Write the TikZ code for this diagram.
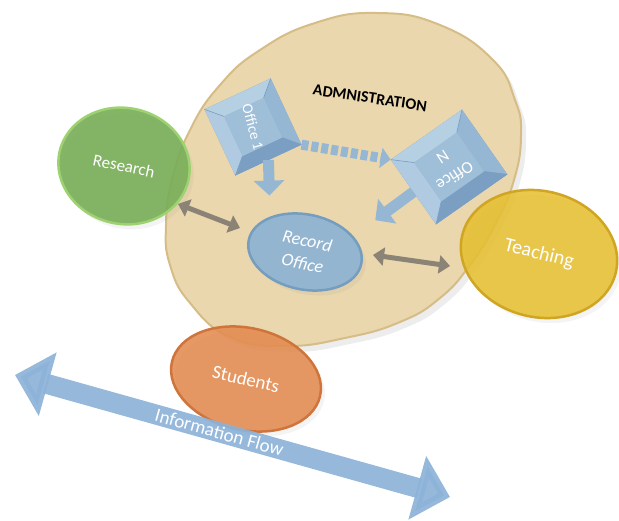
\documentclass[tikz,border=0pt]{standalone}
\usepackage{fontspec}
\setmainfont{Carlito}
\usetikzlibrary{shapes.geometric,arrows.meta,calc,shadows}

\definecolor{admfill}{HTML}{EAD7AD}
\definecolor{admrim}{HTML}{D6BD88}
\definecolor{resfill}{HTML}{7AAF59}
\definecolor{resrim}{HTML}{9ED270}
\definecolor{teafill}{HTML}{E6C032}
\definecolor{tearim}{HTML}{CFA521}
\definecolor{stufill}{HTML}{E48B50}
\definecolor{sturim}{HTML}{CF743B}
\definecolor{recfill}{HTML}{94B5D0}
\definecolor{recrim}{HTML}{759DC0}
\definecolor{offA}{HTML}{B5CFE3}
\definecolor{offB}{HTML}{95B7D4}
\definecolor{offC}{HTML}{7A9FC2}
\definecolor{flowblue}{HTML}{8CB2D8}
\definecolor{greyarrow}{HTML}{8B8375}

% bevelled faces of an office box
\newcommand\officebevel[1]{%
  \coordinate (#1-a) at ($(#1.north west)!0.2!(#1.south east)$);
  \coordinate (#1-b) at ($(#1.north east)!0.2!(#1.south west)$);
  \coordinate (#1-c) at ($(#1.south east)!0.2!(#1.north west)$);
  \coordinate (#1-d) at ($(#1.south west)!0.2!(#1.north east)$);
  \fill[offA] (#1.north west) -- (#1.north east) -- (#1-b) -- (#1-a) -- cycle;
  \fill[offB] (#1.north east) -- (#1.south east) -- (#1-c) -- (#1-b) -- cycle;
  \fill[offC] (#1.south east) -- (#1.south west) -- (#1-d) -- (#1-c) -- cycle;
  \fill[offA!85!offB] (#1.south west) -- (#1.north west) -- (#1-a) -- (#1-d) -- cycle;
  \fill[offB!70!offA] (#1-a) -- (#1-b) -- (#1-c) -- (#1-d) -- cycle;
  \draw[offC, line width=0.6pt] (#1.north west) -- (#1-a) (#1.north east) -- (#1-b)
    (#1.south east) -- (#1-c) (#1.south west) -- (#1-d);
}

\begin{document}
\begin{tikzpicture}[x=1pt,y=-1pt,
  disc/.style={ellipse, inner sep=0pt, line width=2.5pt, text opacity=1,
    text=white, align=center,
    drop shadow={opacity=0.09, shadow xshift=4pt, shadow yshift=-5pt}},
  officebox/.style={rectangle, fill=offB, draw=offC, line width=1pt, inner sep=0pt},
  officetext/.style={text=white, align=center, font=\fontsize{15}{16}\selectfont},
  bluearrow/.style={draw=offB, line width=11pt, -{Triangle[width=30pt,length=15pt]}},
  dotarrow/.style={draw=offB, line width=10pt, dash pattern=on 7pt off 3pt,
    -{Triangle[width=20pt,length=10pt]}},
  greydouble/.style={draw=greyarrow, line width=5pt,
    {Triangle[width=18pt,length=11pt]}-{Triangle[width=18pt,length=11pt]}},
  flowarrow/.style={draw=flowblue, line width=20pt, opacity=0.92,
    {Triangle[width=64pt,length=34pt]}-{Triangle[width=64pt,length=34pt]}},
]
\useasboundingbox (0,0) rectangle (619,521);

% administration area
\begin{scope}[shift={(5,6)}]
  \fill[black, opacity=0.07] plot[smooth cycle, tension=0.8] coordinates {
    (377,13) (440,25) (493,60) (515,100) (521,135) (514,180) (495,225) (470,265)
    (440,298) (400,322) (345,338) (285,346) (230,337) (190,303) (170,265) (166,225)
    (172,180) (190,130) (220,85) (260,50) (315,23)};
\end{scope}
\filldraw[fill=admfill, draw=admrim, line width=2pt] plot[smooth cycle, tension=0.8] coordinates {
    (377,13) (440,25) (493,60) (515,100) (521,135) (514,180) (495,225) (470,265)
    (440,298) (400,322) (345,338) (285,346) (230,337) (190,303) (170,265) (166,225)
    (172,180) (190,130) (220,85) (260,50) (315,23)};
\node[rotate=-8.5, font=\bfseries\fontsize{16}{18}\selectfont] (admlabel) at (370,98) {ADMNISTRATION};

% outer units
\node[disc, fill=resfill, draw=resrim, fill opacity=0.92, minimum width=132pt,
  minimum height=116pt, rotate=-12, font=\fontsize{17}{19}\selectfont] (research) at (124,166) {Research};
\node[disc, fill=teafill, draw=tearim, fill opacity=0.88, minimum width=158pt,
  minimum height=126pt, rotate=-14, font=\fontsize{20}{22}\selectfont] (teaching) at (539,254) {Teaching};

% record office
\node[disc, fill=recfill, draw=recrim, minimum width=115pt, minimum height=75pt,
  rotate=-12, font=\itshape\fontsize{18}{23}\selectfont] (record) at (305,252) {Record\\Office};

% offices
\node[officebox, minimum width=72pt, minimum height=72pt, rotate=25] (o1) at (253,127) {};
\officebevel{o1}
\node[officetext, rotate=-75] (o1text) at (o1) {Office 1};
\node[officebox, minimum width=86pt, minimum height=78pt, rotate=35] (oN) at (449,167) {};
\officebevel{oN}
\node[officetext, rotate=213, font=\fontsize{17}{22}\selectfont] (oNtext) at (oN) {Office\\N};

% flows inside administration
\draw[dotarrow] (o1.south east) -- (oN.north west);
\draw[bluearrow, shorten >=21pt] (o1.south) -- (record.north west);
\draw[bluearrow, shorten >=27pt] (oN.west) -- (record.30);

\coordinate (g1a) at (178,204);
\coordinate (g1b) at (240,228);
\coordinate (g2a) at (373,255);
\coordinate (g2b) at (450,266);
\draw[greydouble] (g1a) -- (g1b);
\draw[greydouble] (g2a) -- (g2b);

% students
\node[disc, fill=stufill, draw=sturim, fill opacity=0.88, minimum width=152pt,
  minimum height=102pt, rotate=-13, font=\fontsize{19}{21}\selectfont] (students) at (246,379) {Students};

% information flow
\coordinate (flowL) at (15,375);
\coordinate (flowR) at (450,497);
\draw[flowarrow] (flowL) -- (flowR)
  node[pos=0.47, sloped, text=white, text opacity=1, font=\fontsize{19}{21}\selectfont] (flowlabel) {Information Flow};
\end{tikzpicture}
\end{document}
